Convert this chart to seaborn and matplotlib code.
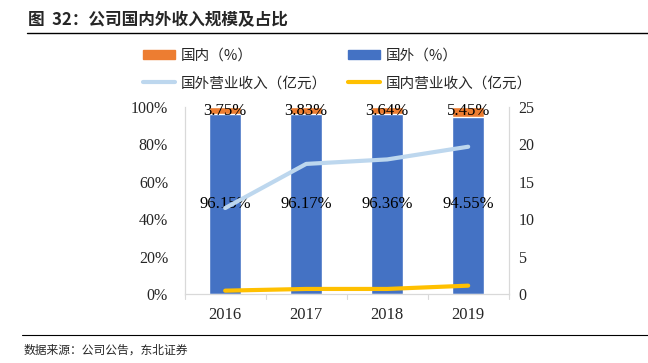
import numpy as np
import pandas as pd
import matplotlib
matplotlib.use("Agg")
import matplotlib.pyplot as plt
import seaborn as sns
from matplotlib.patches import Patch
from matplotlib.lines import Line2D

years = ["2016", "2017", "2018", "2019"]
domestic_pct = [3.75, 3.83, 3.64, 5.45]
foreign_pct = [96.15, 96.17, 96.36, 94.55]
foreign_rev = [11.5, 17.4, 18.0, 19.7]
domestic_rev = [0.45, 0.68, 0.68, 1.12]

sns.set_theme(style="white")
plt.rcParams['font.family'] = ['Liberation Serif', 'Noto Sans CJK SC', 'DejaVu Sans']
cjk = ['Noto Sans CJK SC', 'DejaVu Sans']

C_OR = "#ED7D31"
C_BL = "#4472C4"
C_LB = "#BDD7EE"
C_YE = "#FFC000"
C_AX = "#D9D9D9"

df = pd.DataFrame({"year": years, "dom": domestic_pct, "for": foreign_pct})
df["total"] = df["dom"] + df["for"]

fig = plt.figure(figsize=(6.48, 3.63), dpi=100)
ax = fig.add_axes([0.285, 0.190, 0.500, 0.515])

sns.barplot(data=df, x="year", y="total", color=C_OR, width=0.395, ax=ax, saturation=1)
sns.barplot(data=df, x="year", y="for", color=C_BL, width=0.395, ax=ax, saturation=1)
ax.set_xlim(-0.5, 3.5)
ax.set_ylim(0, 100)
ax.set_yticks([0, 20, 40, 60, 80, 100])
ax.set_yticklabels([f"{v}%" for v in [0, 20, 40, 60, 80, 100]], fontsize=11.5)
ax.set_xlabel("")
ax.set_ylabel("")
ax.tick_params(axis='x', labelsize=12, pad=9, length=0)
ax.tick_params(axis='y', length=0, pad=12)
ax.spines["top"].set_visible(False)
for s in ["left", "right", "bottom"]:
    ax.spines[s].set_color(C_AX)
    ax.spines[s].set_linewidth(0.8)
for xb in [-0.5, 0.5, 1.5, 2.5, 3.5]:
    ax.plot([xb, xb], [0, -2.6], color=C_AX, lw=0.8, clip_on=False)

for i in range(len(years)):
    ax.text(i, 98, f"{domestic_pct[i]:.2f}%", ha="center", va="center", fontsize=12, color="black")
    ax.text(i, 48, f"{foreign_pct[i]:.2f}%", ha="center", va="center", fontsize=12, color="black")

ax2 = ax.twinx()
x_pos = np.arange(len(years))
sns.lineplot(x=x_pos, y=foreign_rev, color=C_LB, lw=3, ax=ax2)
sns.lineplot(x=x_pos, y=domestic_rev, color=C_YE, lw=3, ax=ax2)
ax2.set_ylim(0, 25)
ax2.set_yticks([0, 5, 10, 15, 20, 25])
ax2.set_yticklabels(["0", "5", "10", "15", "20", "25"], fontsize=11.5)
ax2.tick_params(axis='y', length=0, pad=7)
ax2.set_xlim(-0.5, 3.5)
ax2.spines["top"].set_visible(False)
for s in ["left", "right", "bottom"]:
    ax2.spines[s].set_color(C_AX)
    ax2.spines[s].set_linewidth(0.8)

handles = [Patch(color=C_OR), Line2D([], [], color=C_LB, lw=3),
           Patch(color=C_BL), Line2D([], [], color=C_YE, lw=3)]
labels = ["国内（%）", "国外营业收入（亿元）", "国外（%）", "国内营业收入（亿元）"]
leg = fig.legend(handles, labels, loc="upper left", bbox_to_anchor=(0.205, 0.895), ncol=2,
                 frameon=False, prop={'family': cjk, 'size': 10.5}, handlelength=2.2,
                 handleheight=0.55, columnspacing=1.4, labelspacing=0.95, handletextpad=0.4,
                 borderpad=0.2)

fig.text(0.043, 0.945, "图  32：公司国内外收入规模及占比", fontsize=12, fontweight="bold",
         family=cjk, ha="left", va="center")
fig.add_artist(Line2D([0.042, 1.0], [0.909, 0.909], color="black", lw=1.0, transform=fig.transFigure))
fig.add_artist(Line2D([0.034, 1.0], [0.077, 0.077], color="black", lw=0.8, transform=fig.transFigure))
fig.text(0.036, 0.035, "数据来源：公司公告，东北证券", fontsize=8.5, family=cjk, ha="left", va="center")

fig.savefig("out.png", dpi=100)
